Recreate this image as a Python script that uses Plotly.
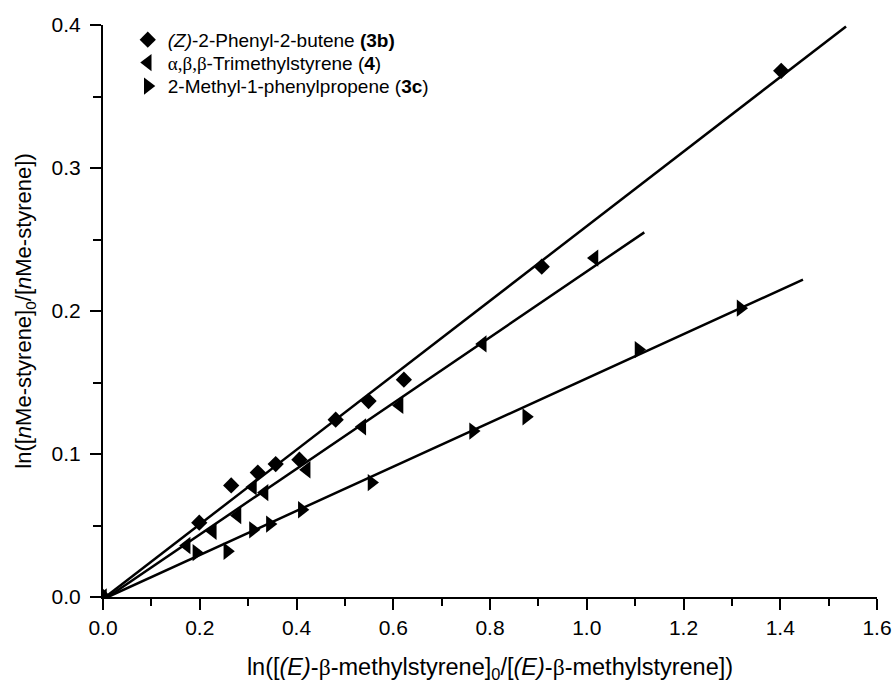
import plotly.graph_objects as go

# (Z)-2-Phenyl-2-butene (3b)
x_3b = [0.0, 0.199, 0.265, 0.32, 0.357, 0.406, 0.481, 0.549, 0.622, 0.907, 1.402]
y_3b = [0.0, 0.052, 0.078, 0.087, 0.093, 0.096, 0.124, 0.137, 0.152, 0.231, 0.368]

# alpha,beta,beta-Trimethylstyrene (4)
x_4 = [0.0, 0.173, 0.227, 0.278, 0.31, 0.334, 0.421, 0.536, 0.613, 0.785, 1.016]
y_4 = [0.0, 0.036, 0.046, 0.057, 0.077, 0.073, 0.089, 0.119, 0.134, 0.177, 0.237]

# 2-Methyl-1-phenylpropene (3c)
x_3c = [0.0, 0.193, 0.257, 0.31, 0.345, 0.411, 0.555, 0.765, 0.875, 1.107, 1.318]
y_3c = [0.0, 0.031, 0.032, 0.047, 0.051, 0.061, 0.080, 0.116, 0.126, 0.173, 0.202]

# fitted lines (end points)
fit_x_3b = [0.005, 1.536]
fit_y_3b = [0.0, 0.399]
fit_x_4 = [0.01, 1.119]
fit_y_4 = [0.0, 0.255]
fit_x_3c = [0.01, 1.447]
fit_y_3c = [0.0, 0.222]

serif = "<span style=\"font-family:'Liberation Serif'\">%s</span>"
names = [
    "<i>(Z)</i>-2-Phenyl-2-butene <b>(3b)</b>",
    serif % "α,β,β" + "-Trimethylstyrene (<b>4</b>)",
    "2-Methyl-1-phenylpropene (<b>3c</b>)",
]

fig = go.Figure()

for fx, fy in [(fit_x_3b, fit_y_3b), (fit_x_4, fit_y_4), (fit_x_3c, fit_y_3c)]:
    fig.add_trace(go.Scatter(x=fx, y=fy, mode="lines",
                             line=dict(color="black", width=2.5),
                             showlegend=False, hoverinfo="skip"))

series = [(x_3b, y_3b, "diamond", 12.5, names[0], "legend"),
          (x_4, y_4, "triangle-left", 15, names[1], "legend2"),
          (x_3c, y_3c, "triangle-right", 15, names[2], "legend3")]
for xs, ys, sym, sz, nm, lg in series:
    fig.add_trace(go.Scatter(x=xs, y=ys, mode="markers", name=nm, legend=lg,
                             marker=dict(symbol=sym, size=sz, color="black")))

axis_common = dict(
    showline=True, linecolor="black", linewidth=2, mirror=False,
    showgrid=False, zeroline=False, automargin=False,
    ticks="outside", ticklen=11, tickwidth=2, tickcolor="black",
    tickfont=dict(size=21, color="black"),
    tickformat=".1f", ticklabeloverflow="allow",
)

beta = serif % "β"
fig.update_xaxes(range=[0, 1.6], dtick=0.2, tick0=0,
                 minor=dict(ticks="outside", ticklen=7, tickwidth=2,
                            tickcolor="black", dtick=0.1),
                 title=dict(text="ln([<i>(E)</i>-" + beta + "-methylstyrene]<sub>0</sub>/[<i>(E)</i>-"
                            + beta + "-methylstyrene])",
                            font=dict(size=23.5, color="black"), standoff=23),
                 **axis_common)
fig.update_yaxes(range=[0, 0.4], dtick=0.1, tick0=0, ticklabelstandoff=5,
                 minor=dict(ticks="outside", ticklen=8, tickwidth=2,
                            tickcolor="black", dtick=0.05),
                 title=dict(text="ln([<i>n</i>Me-styrene]<sub>0</sub>/[<i>n</i>Me-styrene])",
                            font=dict(size=22, color="black"), standoff=14),
                 **axis_common)

leg = dict(x=0.032, xanchor="left", yanchor="middle",
           bgcolor="rgba(0,0,0,0)", font=dict(size=19, color="black"))
fig.update_layout(
    width=894, height=683,
    margin=dict(l=103, r=16.5, t=25, b=86),
    plot_bgcolor="white", paper_bgcolor="white",
    font=dict(family="Liberation Sans, Arial, sans-serif", color="black"),
    legend=dict(y=0.974, **leg),
    legend2=dict(y=0.934, **leg),
    legend3=dict(y=0.893, **leg),
)

# drop the default body margin so the figure fills the window exactly
fig.write_html("out.html", config={"displayModeBar": False},
               post_script="document.body.style.margin='0';")
